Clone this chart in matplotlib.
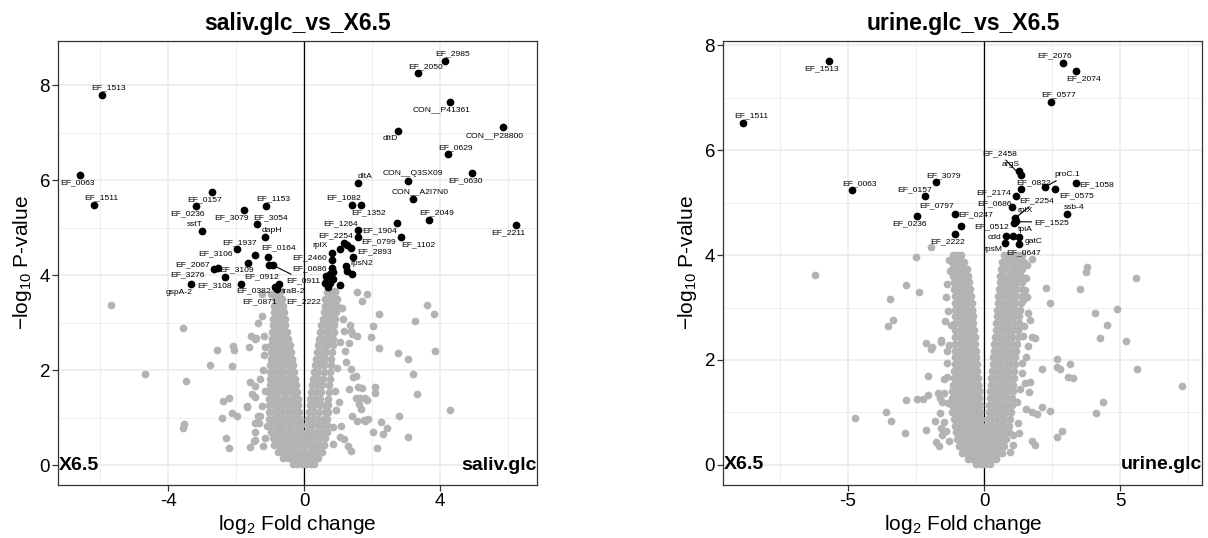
import numpy as np
import matplotlib
matplotlib.use('Agg')
import matplotlib.pyplot as plt
from matplotlib.transforms import blended_transform_factory

plt.rcParams['font.family'] = ['Liberation Sans', 'DejaVu Sans']
plt.rcParams['mathtext.fontset'] = 'custom'
plt.rcParams['mathtext.rm'] = 'Liberation Sans'
plt.rcParams['mathtext.it'] = 'Liberation Sans:italic'
plt.rcParams['mathtext.bf'] = 'Liberation Sans:bold'
plt.rcParams['axes.unicode_minus'] = False

# %% saliv.glc vs X6.5 -------------------------------------------------------
# dense part of the volcano, one row of log2FC values per -log10 p level
saliv_core = [
    (3.64, [-0.80, -0.70, 0.66, 0.78, 0.90]),
    (3.50, [-0.86, -0.74, -0.64, 0.62, 0.75, 0.88, 0.98]),
    (3.36, [-0.88, -0.76, -0.63, 0.60, 0.72, 0.85, 0.96]),
    (3.22, [-0.90, -0.78, -0.66, -0.58, 0.57, 0.69, 0.82, 0.94]),
    (3.08, [-0.92, -0.80, -0.68, -0.57, 0.54, 0.66, 0.79, 0.91]),
    (2.94, [-0.93, -0.81, -0.69, -0.56, 0.50, 0.63, 0.76, 0.89]),
    (2.80, [-0.95, -0.83, -0.71, -0.59, -0.50, 0.47, 0.60, 0.73, 0.87]),
    (2.66, [-0.96, -0.84, -0.72, -0.60, -0.47, 0.44, 0.57, 0.71, 0.86]),
    (2.52, [-0.97, -0.85, -0.73, -0.61, -0.49, -0.43, 0.41, 0.54, 0.68, 0.84]),
    (2.38, [-0.98, -0.86, -0.74, -0.62, -0.50, -0.40, 0.38, 0.51, 0.65, 0.82]),
    (2.24, [-0.99, -0.87, -0.75, -0.63, -0.51, -0.37, 0.35, 0.48, 0.62, 0.80]),
    (2.10, [-1.00, -0.88, -0.75, -0.62, -0.49, -0.36, -0.33, 0.31, 0.45, 0.59, 0.79]),
    (1.96, [-1.00, -0.87, -0.74, -0.61, -0.48, -0.35, -0.29, 0.28, 0.42, 0.57, 0.77]),
    (1.82, [-1.01, -0.88, -0.75, -0.62, -0.49, -0.36, -0.27, 0.26, 0.40, 0.55, 0.75]),
    (1.68, [-1.01, -0.88, -0.75, -0.62, -0.49, -0.36, -0.24, 0.23, 0.37, 0.52, 0.73]),
    (1.54, [-1.02, -0.89, -0.76, -0.63, -0.50, -0.37, -0.24, -0.21, 0.20, 0.34, 0.50, 0.72]),
    (1.40, [-1.02, -0.89, -0.76, -0.63, -0.50, -0.37, -0.24, -0.19, 0.18, 0.32, 0.48, 0.71]),
    (1.26, [-1.02, -0.89, -0.76, -0.63, -0.50, -0.37, -0.24, -0.17, 0.16, 0.30, 0.46, 0.62, 0.70]),
    (1.12, [-1.03, -0.90, -0.77, -0.64, -0.51, -0.38, -0.25, -0.14, 0.14, 0.28, 0.44, 0.60, 0.69]),
    (0.98, [-1.02, -0.89, -0.76, -0.63, -0.50, -0.37, -0.24, -0.12, 0.12, 0.26, 0.42, 0.58, 0.68]),
    (0.84, [-1.00, -0.87, -0.74, -0.61, -0.48, -0.35, -0.22, -0.10, 0.10, 0.24, 0.40, 0.56, 0.67]),
    (0.70, [-0.97, -0.84, -0.71, -0.58, -0.45, -0.32, -0.19, -0.08, 0.08, 0.22, 0.37, 0.52, 0.66]),
    (0.56, [-0.93, -0.80, -0.67, -0.54, -0.41, -0.28, -0.15, -0.03, 0.05, 0.18, 0.32, 0.47, 0.62]),
    (0.42, [-0.88, -0.75, -0.62, -0.49, -0.36, -0.23, -0.10, 0.03, 0.16, 0.29, 0.43, 0.58]),
    (0.28, [-0.78, -0.65, -0.52, -0.39, -0.26, -0.13, 0.00, 0.13, 0.26, 0.39, 0.52]),
    (0.14, [-0.62, -0.49, -0.36, -0.23, -0.10, 0.03, 0.16, 0.29, 0.42]),
    (0.03, [-0.34, -0.20, -0.07, 0.06, 0.19, 0.30]),
]

# scattered non-significant proteins
saliv_bg_x = [-5.67, -4.69, -3.55, -3.49, -3.53, -3.55, -2.76, -2.55, -2.08, -2.06, -2.12, -1.61,
              -2.38, -2.21, -2.42, -2.11, -1.97, -1.69, -2.31, -2.21, -1.60, -1.56, -1.44, -1.36,
              -1.58, -1.44, -1.54, -1.44, -1.36, -1.44, -1.46, -1.46, -1.24, -1.41, -1.19, -1.14,
              -1.29, -1.68, -1.29, -1.34, -1.09, -1.14, -1.48, -1.19, -1.23, -0.97, -0.73, -0.68,
              -1.20, -1.25, -1.15, -1.20,
              0.91, 1.54, 1.86, 1.70, 2.20, 2.01, 1.97, 2.19, 2.75, 3.04, 3.25, 3.62, 3.81, 3.86,
              3.21, 3.31, 4.28, 1.69, 2.07, 2.09, 1.78, 1.86, 1.67, 1.76, 1.88, 2.79, 2.25, 2.44,
              2.02, 2.32, 3.04, 2.15, 1.15, 1.37, 1.56, 1.22, 1.37, 1.51, 1.32, 1.51, 1.61, 1.42,
              1.56, 1.17, 1.37, 1.07, 1.02, 1.18, 1.35, 1.40, 1.33, 1.20, 0.84, 1.06, 1.28, 0.86,
              0.95, 0.92, 0.98, 1.05, 1.12, 1.44, 1.59, 1.64, 1.80]
saliv_bg_y = [3.38, 1.91, 2.89, 1.78, 0.86, 0.78, 2.10, 2.43, 2.50, 2.43, 2.08, 2.49,
              1.34, 1.42, 1.00, 1.10, 1.03, 1.23, 0.57, 0.35, 0.37, 2.72, 2.65, 3.00,
              1.75, 1.67, 1.49, 1.44, 1.03, 0.88, 0.70, 0.52, 3.14, 2.67, 2.72, 2.48,
              1.81, 1.24, 1.03, 0.89, 0.82, 0.58, 0.51, 2.31, 3.60, 3.60, 3.53, 3.37,
              2.00, 1.25, 1.55, 0.40,
              3.66, 3.64, 3.61, 3.46, 3.19, 2.93, 2.69, 2.46, 2.37, 2.24, 3.03, 3.37, 3.18, 2.40,
              1.91, 1.50, 1.17, 1.62, 1.65, 1.51, 1.42, 1.37, 1.19, 0.94, 0.96, 1.03, 0.91, 0.78,
              0.69, 0.65, 0.59, 0.35, 3.07, 2.83, 2.72, 2.16, 2.02, 1.88, 1.60, 1.42, 1.28, 1.03,
              0.93, 0.54, 0.30, 0.82, 1.32, 2.83, 2.94, 2.76, 2.58, 2.40, 0.80, 0.59, 0.41, 0.45,
              1.15, 1.55, 2.05, 2.60, 3.30, 1.85, 1.64, 1.42, 0.92]

# significant proteins ('' = no label drawn)
saliv_hit_names = ['EF_2985', 'EF_2050', 'CON__P41361', 'CON__P28800', 'dltD', 'EF_0629', 'EF_0630',
                   'CON__Q3SX09', 'dltA', 'CON__A2I7N0', 'EF_1082', 'EF_1352', 'EF_2049', 'EF_2211',
                   'EF_1102', 'EF_1904', 'EF_1264', 'EF_0799', 'EF_2254', '', '', '', 'EF_2893',
                   'rplX', 'EF_2460', 'rpsN2', '', '', 'EF_0686', '', '', '', '', 'EF_2222', '', '',
                   '', '',
                   'EF_1513', 'EF_0063', 'EF_1511', 'EF_0157', 'EF_0236', 'EF_3079', 'EF_1153',
                   'EF_3054', 'sstT', 'dapH', 'EF_1937', '', 'EF_0164', 'EF_3106', 'EF_0912',
                   'EF_0911', 'EF_3276', 'EF_2067', 'EF_3109', 'gspA-2', 'EF_3108', 'EF_0382',
                   'EF_0871', 'traB-2']
saliv_hit_x = [4.13, 3.36, 4.28, 5.85, 2.76, 4.22, 4.95, 3.05, 1.57, 3.19, 1.40, 1.66, 3.66, 6.24,
               2.85, 2.74, 1.57, 1.57, 1.18, 1.27, 1.39, 1.06, 1.44, 0.81, 0.81, 1.24, 1.25, 1.40,
               0.81, 0.86, 0.76, 0.65, 0.67, 0.62, 0.69, 0.76, 0.84, 1.04,
               -5.96, -6.60, -6.19, -2.71, -3.19, -1.76, -1.13, -1.38, -3.00, -1.16, -1.98, -1.46,
               -1.05, -1.66, -1.02, -0.92, -2.66, -2.54, -2.33, -3.32, -1.85, -0.73, -0.85, -0.79]
saliv_hit_y = [8.51, 8.25, 7.64, 7.11, 7.03, 6.54, 6.15, 5.99, 5.93, 5.61, 5.48, 5.48, 5.17, 5.05,
               4.81, 5.09, 4.94, 4.81, 4.67, 4.63, 4.58, 4.55, 4.39, 4.47, 4.31, 4.20, 4.09, 4.02,
               4.14, 4.06, 4.02, 3.98, 3.91, 3.84, 3.74, 3.84, 3.91, 3.80,
               7.80, 6.11, 5.48, 5.74, 5.46, 5.37, 5.46, 5.07, 4.92, 4.80, 4.54, 4.43,
               4.39, 4.26, 4.22, 4.21, 4.12, 4.15, 3.95, 3.81, 3.82, 3.82, 3.74, 3.71]

# label placement (pixel offsets from the point), repel-style
saliv_label_offsets = {
    'EF_2985': (7.7, 6.9), 'EF_2050': (7.7, 6.9), 'CON__P41361': (-8, -7.5),
    'CON__P28800': (-8, -7.9), 'dltD': (-8, -6.9), 'EF_0629': (7.7, 6.9), 'EF_0630': (-7.3, -7.5),
    'CON__Q3SX09': (4.7, 6.9), 'dltA': (7.7, 6.9), 'CON__A2I7N0': (7, 6.9), 'EF_1082': (-8, 7.5),
    'EF_1352': (8, -7.9), 'EF_2049': (7.7, 7.2), 'EF_2211': (-8, -7.9), 'EF_1102': (17.3, -7.9),
    'EF_1904': (-18, -7.5), 'EF_1264': (-17.3, 6.9), 'EF_0799': (21.3, -5.1), 'EF_2254': (-9, 7.5),
    'EF_2893': (21.3, 4.4), 'rplX': (-11.7, 6.9), 'EF_2460': (-22.3, 2.8), 'rpsN2': (15.7, 1.7),
    'EF_0686': (-22.3, -0.7), 'EF_2222': (-21.7, -18.8),
    'EF_1513': (7.3, 6.9), 'EF_0063': (-2.3, -7.5), 'EF_1511': (7.3, 6.9), 'EF_0157': (-7.7, -6.9),
    'EF_0236': (-8, -7.5), 'EF_3079': (-13, -7.5), 'EF_1153': (7.7, 6.9), 'EF_3054': (13, 6.5),
    'sstT': (-7.7, 6.9), 'dapH': (7, 6.5), 'EF_1937': (2.3, 6.9), 'EF_0164': (10, 9.3),
    'EF_3106': (-32.7, 9.3), 'EF_0912': (-7.7, -12.3), 'EF_0911': (30.7, -15.4),
    'EF_3276': (-26, -5.8), 'EF_2067': (-25, 3.1), 'EF_3109': (12, 7.5), 'gspA-2': (-12.7, -7.9),
    'EF_3108': (-27, -2.4), 'EF_0382': (-26, -7.5), 'EF_0871': (-16, -14.4), 'traB-2': (16, -2.7),
}
saliv_leaders = ['EF_0911']

# %% urine.glc vs X6.5 -------------------------------------------------------
urine_core = [
    (4.00, [-1.15, -1.00, -0.85, 0.72, 0.88, 1.05, 1.22, 1.40]),
    (3.87, [-1.18, -1.03, -0.88, -0.73, 0.66, 0.82, 0.98, 1.14, 1.30, 1.45]),
    (3.74, [-1.16, -1.01, -0.86, -0.71, -0.62, 0.62, 0.78, 0.94, 1.10, 1.26, 1.40]),
    (3.61, [-1.14, -0.99, -0.84, -0.69, -0.58, 0.59, 0.75, 0.91, 1.07, 1.23, 1.36]),
    (3.48, [-1.12, -0.97, -0.82, -0.67, -0.55, 0.57, 0.73, 0.89, 1.05, 1.21, 1.38]),
    (3.35, [-1.10, -0.95, -0.80, -0.65, -0.52, 0.55, 0.71, 0.87, 1.03, 1.19, 1.40]),
    (3.22, [-1.08, -0.93, -0.78, -0.63, -0.49, 0.53, 0.69, 0.85, 1.01, 1.17, 1.38]),
    (3.09, [-1.07, -0.92, -0.77, -0.62, -0.46, 0.51, 0.67, 0.83, 0.99, 1.15, 1.36]),
    (2.96, [-1.06, -0.91, -0.76, -0.61, -0.46, -0.43, 0.49, 0.65, 0.81, 0.97, 1.13, 1.33]),
    (2.83, [-1.06, -0.91, -0.76, -0.61, -0.46, -0.41, 0.47, 0.63, 0.79, 0.95, 1.11, 1.30]),
    (2.70, [-1.05, -0.90, -0.75, -0.60, -0.45, -0.39, 0.45, 0.61, 0.77, 0.93, 1.09, 1.28]),
    (2.57, [-1.05, -0.90, -0.75, -0.60, -0.45, -0.37, 0.43, 0.59, 0.75, 0.91, 1.07, 1.26]),
    (2.44, [-1.05, -0.90, -0.75, -0.60, -0.45, -0.35, 0.40, 0.56, 0.72, 0.88, 1.04, 1.24]),
    (2.31, [-1.05, -0.90, -0.75, -0.60, -0.45, -0.33, 0.38, 0.54, 0.70, 0.86, 1.02, 1.21]),
    (2.18, [-1.06, -0.91, -0.76, -0.61, -0.46, -0.31, 0.36, 0.52, 0.68, 0.84, 1.00, 1.18]),
    (2.05, [-1.07, -0.92, -0.77, -0.62, -0.47, -0.32, -0.29, 0.34, 0.50, 0.66, 0.82, 0.98, 1.15]),
    (1.92, [-1.08, -0.93, -0.78, -0.63, -0.48, -0.33, -0.27, 0.32, 0.48, 0.64, 0.80, 0.96, 1.13]),
    (1.79, [-1.10, -0.95, -0.80, -0.65, -0.50, -0.35, -0.25, 0.29, 0.45, 0.61, 0.77, 0.93, 1.11]),
    (1.66, [-1.12, -0.97, -0.82, -0.67, -0.52, -0.37, -0.24, 0.27, 0.43, 0.59, 0.75, 0.91, 1.09]),
    (1.53, [-1.14, -0.99, -0.84, -0.69, -0.54, -0.39, -0.24, -0.22, 0.25, 0.41, 0.57, 0.73, 0.89, 1.07]),
    (1.40, [-1.16, -1.01, -0.86, -0.71, -0.56, -0.41, -0.26, -0.20, 0.23, 0.39, 0.55, 0.71, 0.87, 1.05]),
    (1.27, [-1.18, -1.03, -0.88, -0.73, -0.58, -0.43, -0.28, -0.18, 0.21, 0.37, 0.53, 0.69, 0.85, 1.03]),
    (1.14, [-1.18, -1.03, -0.88, -0.73, -0.58, -0.43, -0.28, -0.16, 0.19, 0.35, 0.51, 0.67, 0.83, 1.01]),
    (1.01, [-1.16, -1.01, -0.86, -0.71, -0.56, -0.41, -0.26, -0.14, 0.17, 0.33, 0.49, 0.65, 0.81, 0.99]),
    (0.88, [-1.12, -0.97, -0.82, -0.67, -0.52, -0.37, -0.22, -0.12, 0.14, 0.30, 0.46, 0.62, 0.78, 0.96]),
    (0.75, [-1.08, -0.93, -0.78, -0.63, -0.48, -0.33, -0.18, -0.09, 0.11, 0.27, 0.43, 0.59, 0.75, 0.93]),
    (0.62, [-1.04, -0.89, -0.74, -0.59, -0.44, -0.29, -0.14, 0.00, 0.14, 0.29, 0.44, 0.59, 0.74, 0.90]),
    (0.49, [-1.00, -0.85, -0.70, -0.55, -0.40, -0.25, -0.10, 0.05, 0.20, 0.35, 0.50, 0.65, 0.82]),
    (0.36, [-0.92, -0.77, -0.62, -0.47, -0.32, -0.17, -0.02, 0.13, 0.28, 0.43, 0.58, 0.74]),
    (0.23, [-0.80, -0.65, -0.50, -0.35, -0.20, -0.05, 0.10, 0.25, 0.40, 0.55, 0.66]),
    (0.11, [-0.60, -0.45, -0.30, -0.15, 0.00, 0.15, 0.30, 0.45]),
    (0.02, [-0.28, -0.12, 0.04, 0.20]),
]

urine_bg_x = [-6.21, -2.49, -1.95, -2.88, -2.40, -3.47, -3.35, -3.53, -2.14, -1.96, -1.92, -1.59,
              -1.57, -1.28, -1.26, -1.43, -1.31, -1.22, -1.28, -1.38, -2.06, -1.47, -1.38, -1.48,
              -2.88, -2.45, -2.24, -2.06, -1.71, -1.63, -1.53, -1.34, -4.75, -3.62, -3.41, -2.91,
              -2.14, -1.63, -1.80, -1.47, -1.59, -1.40, -1.53, -1.75, -1.65, -1.30, -1.35, -1.40,
              -1.38,
              3.79, 3.74, 5.57, 2.26, 3.54, 2.44, 4.08, 4.90, 4.53, 4.27, 5.20, 2.69, 2.69, 2.80,
              3.16, 2.14, 3.10, 3.25, 5.63, 7.26, 4.37, 4.10, 2.44, 2.12, 2.88, 2.67, 1.75, 1.89,
              1.68, 1.66, 1.54, 1.75, 1.93, 1.70, 1.77, 1.87, 1.62, 1.46, 1.44, 1.38, 1.38, 1.50,
              1.32, 1.07, 0.95, 1.07, 1.75, 1.56, 1.53, 1.50, 1.56, 1.44, 1.60, 1.55, 1.25, 1.30,
              1.20]
urine_bg_y = [3.62, 3.96, 4.16, 3.43, 3.29, 3.16, 2.77, 2.64, 2.33, 2.20, 2.25, 2.39,
              2.34, 3.91, 3.70, 2.74, 2.94, 2.67, 2.29, 2.17, 1.69, 1.63, 1.68, 1.37,
              1.23, 1.26, 1.26, 1.34, 1.37, 1.28, 1.19, 1.18, 0.90, 1.00, 0.84, 0.61,
              0.66, 0.99, 0.84, 0.82, 0.70, 0.65, 0.57, 0.43, 0.35, 0.45, 3.45, 3.20,
              1.95,
              3.78, 3.67, 3.57, 3.37, 3.35, 3.08, 2.90, 2.98, 2.66, 2.42, 2.37, 2.02, 1.86, 1.82,
              1.93, 1.83, 1.68, 1.65, 1.82, 1.51, 1.20, 0.99, 1.03, 1.11, 0.64, 0.53, 0.46, 0.37,
              1.58, 1.38, 1.06, 1.00, 0.97, 2.76, 2.43, 2.41, 2.26, 2.64, 2.45, 1.95, 1.76, 1.57,
              1.44, 0.37, 0.24, 0.56, 3.92, 3.81, 3.56, 3.34, 3.21, 3.15, 2.90, 2.05, 0.80, 0.60,
              1.20]

urine_hit_names = ['EF_1513', 'EF_1511', 'EF_0063', 'EF_3079', 'EF_0157', 'EF_0797', 'EF_0247',
                   'EF_0236', 'EF_2222', 'EF_2076', 'EF_2074', 'EF_0577',
                   'argS', 'EF_2458', 'EF_0822', 'proC.1', 'EF_0575', 'EF_1058', 'EF_2174',
                   'EF_0686', 'ssb-4', 'EF_2254', 'rplX', 'EF_1525', 'EF_0512', 'cdd', 'tpiA',
                   'gatC', 'rpsM', 'EF_0647']
urine_hit_x = [-5.70, -8.87, -4.86, -1.77, -2.18, -1.08, -0.84, -2.45, -1.06, 2.89, 3.36, 2.46,
               1.29, 1.34, 1.35, 2.25, 2.62, 3.36, 1.17, 1.02, 3.05, 1.13, 1.17, 1.14, 1.09,
               0.80, 1.05, 1.29, 0.77, 1.28]
urine_hit_y = [7.70, 6.53, 5.24, 5.39, 5.13, 4.79, 4.56, 4.75, 4.41, 7.67, 7.52, 6.92,
               5.60, 5.52, 5.27, 5.30, 5.27, 5.37, 5.12, 4.91, 4.79, 4.70, 4.66, 4.64, 4.62,
               4.36, 4.36, 4.34, 4.23, 4.21]

urine_label_offsets = {
    'EF_1513': (-7.7, -7.7), 'EF_1511': (8.3, 6.7), 'EF_0063': (7.3, 6.7), 'EF_3079': (8, 6.7),
    'EF_0157': (-10.3, 6.3), 'EF_0797': (-17.7, 7.7), 'EF_0247': (14.3, 10.7), 'EF_0236': (-8, -8.3),
    'EF_2222': (-7.3, -7.7), 'EF_2076': (-7.7, 6.9), 'EF_2074': (7.7, -7.9), 'EF_0577': (8, 6.9),
    'argS': (-8.7, 6.7), 'EF_2458': (-20.7, 21.7), 'EF_0822': (13, 5.3), 'proC.1': (21.7, 12.7),
    'EF_0575': (21, -7), 'EF_1058': (21.3, -1.3), 'EF_2174': (-22.7, 3.7), 'EF_0686': (-17, 4),
    'ssb-4': (7.3, 6.7), 'EF_2254': (22.3, 18), 'rplX': (9, 10), 'EF_1525': (36.7, -0.7),
    'EF_0512': (-22.3, -4), 'cdd': (-11.7, -1.3), 'tpiA': (12.3, 6.3), 'gatC': (14, -4.3),
    'rpsM': (-11.7, -6), 'EF_0647': (4.3, -8.3),
}
urine_leaders = ['EF_2458', 'proC.1', 'EF_2254', 'EF_1525']


def flatten_rows(rows):
    xs, ys = [], []
    for y, row in rows:
        xs += row
        ys += [y] * len(row)
    return xs, ys


def volcano(ax, title, core, bg_x, bg_y, names, hx, hy, offsets, leaders,
            xlim, ylim, xmajor, xminor, left_tag, right_tag):
    ax.set_xlim(*xlim)
    ax.set_ylim(*ylim)
    ax.set_xticks(xmajor)
    ax.set_xticks(xminor, minor=True)
    ax.set_yticks([0, 2, 4, 6, 8])
    ax.set_yticks([1, 3, 5, 7], minor=True)
    ax.grid(which='major', color='#EBEBEB', lw=1.1)
    ax.grid(which='minor', color='#EBEBEB', lw=0.6)
    ax.set_axisbelow(True)
    for s in ax.spines.values():
        s.set_color('#333333')
        s.set_linewidth(0.9)
    ax.tick_params(which='major', length=4, width=0.9, color='#333333',
                   labelsize=13.5, labelcolor='black', pad=2)
    ax.tick_params(which='minor', length=0)

    ax.axvline(0, color='black', lw=0.9, zorder=1.5)

    cx, cy = flatten_rows(core)
    ax.scatter(cx + bg_x, cy + bg_y, s=31, color='#B3B3B3', lw=0, zorder=2)
    ax.scatter(hx, hy, s=31, color='black', lw=0, zorder=3)

    for name, x, y in zip(names, hx, hy):
        if not name:
            continue
        dx, dy = offsets[name]
        arrow = None
        if name in leaders:
            arrow = dict(arrowstyle='-', color='black', lw=0.8, shrinkA=0, shrinkB=2)
        ax.annotate(name, (x, y), xytext=(dx, dy), textcoords='offset pixels',
                    ha='center', va='center', fontsize=6.1, zorder=4, arrowprops=arrow)

    tr = blended_transform_factory(ax.transAxes, ax.transData)
    ax.text(0.0, 0, left_tag, transform=tr, ha='left', va='center',
            fontsize=14, fontweight='bold', zorder=5)
    ax.text(1.0, 0, right_tag, transform=tr, ha='right', va='center',
            fontsize=14, fontweight='bold', zorder=5)

    ax.set_title(title, fontsize=16.5, fontweight='bold', pad=8)
    ax.set_xlabel(r'$\mathrm{log}_{2}$ Fold change', fontsize=15, labelpad=2)
    ax.set_ylabel(r'$-\mathrm{log}_{10}$ P-value', fontsize=15, labelpad=4)


fig = plt.figure(figsize=(12.08, 5.38), dpi=100)
ax1 = fig.add_axes([0.0483, 0.0985, 0.3963, 0.8253])
ax2 = fig.add_axes([0.5988, 0.0985, 0.3965, 0.8253])

volcano(ax1, 'saliv.glc_vs_X6.5', saliv_core, saliv_bg_x, saliv_bg_y,
        saliv_hit_names, saliv_hit_x, saliv_hit_y, saliv_label_offsets, saliv_leaders,
        (-7.23, 6.85), (-0.42, 8.93), [-4, 0, 4], [-6, -2, 2, 6], 'X6.5', 'saliv.glc')
volcano(ax2, 'urine.glc_vs_X6.5', urine_core, urine_bg_x, urine_bg_y,
        urine_hit_names, urine_hit_x, urine_hit_y, urine_label_offsets, urine_leaders,
        (-9.58, 8.02), (-0.385, 8.085), [-5, 0, 5], [-7.5, -2.5, 2.5, 7.5], 'X6.5', 'urine.glc')

fig.savefig('out.png', dpi=100, facecolor='white')
